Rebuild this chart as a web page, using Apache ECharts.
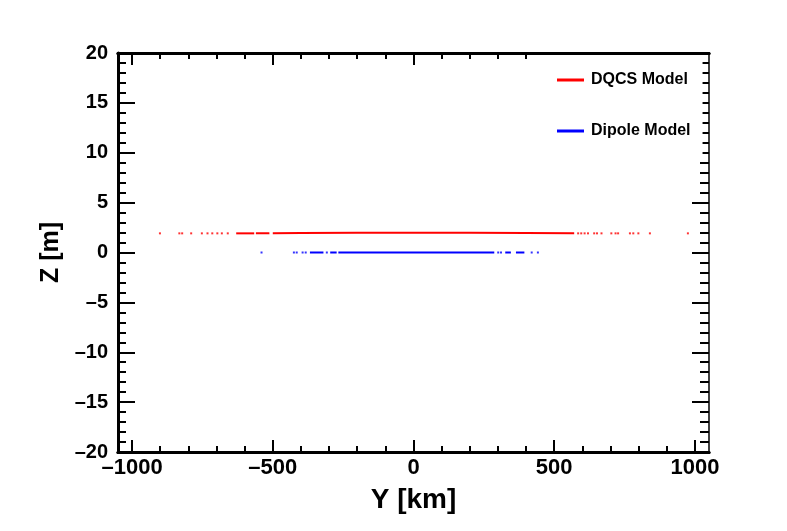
<!DOCTYPE html>
<html>
<head>
<meta charset="utf-8">
<script src="https://cdn.jsdelivr.net/npm/echarts@6/dist/echarts.min.js"></script>
<style>
  html, body { margin: 0; padding: 0; background: #fff; }
  #chart { width: 787px; height: 531px; }
</style>
</head>
<body>
<div id="chart"></div>
<script>
// axis ticks
const xMajorTicks = [-1000, -500, 0, 500, 1000];
const xMinorTicks = [-1000, -900, -800, -700, -600, -500, -400, -300, -200, -100, 0,
                     100, 200, 300, 400, 500, 600, 700, 800, 900, 1000];
// DQCS model: dense track segments and scattered single points (Y km, Z m)
const dqcsTrack1 = [[-630, 1.92], [-566, 1.92]];
const dqcsTrack2 = [[-560, 1.92], [-512, 1.93]];
const dqcsTrack3 = [[-500, 1.93], [-400, 1.95], [-200, 1.98], [0, 1.99], [200, 1.98], [400, 1.95], [571, 1.93]];
const dqcsPoints = [[-901, 1.92], [-832, 1.92], [-822, 1.92], [-790, 1.92], [-752, 1.92], [-732, 1.92],
                    [-715, 1.92], [-697, 1.92], [-681, 1.92], [-660, 1.92],
                    [585, 1.92], [596, 1.92], [608, 1.92], [620, 1.92], [642, 1.92], [652, 1.92],
                    [668, 1.92], [703, 1.92], [718, 1.92], [727, 1.92], [769, 1.92], [781, 1.92],
                    [799, 1.92], [840, 1.92], [975, 1.92]];
// Dipole model
const dipoleTrack1 = [[-368, 0], [-320, 0]];
const dipoleTrack2 = [[-296, 0], [-273, 0]];
const dipoleTrack3 = [[-267, 0], [0, 0], [287, 0]];
const dipoleTrack4 = [[326, 0], [346, 0]];
const dipoleTrack5 = [[364, 0], [394, 0]];
const dipolePoints = [[-540, 0], [-425, 0], [-415, 0], [-394, 0], [-383, 0], [-308, 0],
                      [301, 0], [311, 0], [420, 0], [442, 0]];

const font = '"Liberation Sans", Arial, Helvetica, sans-serif';
const minus = v => String(v).replace('-', '\u2013');

function xAxisDef(pos, ticks, len, withLabels) {
    return {
        type: 'value', position: pos, min: -1050, max: 1050,
        axisLine: { show: true, onZero: false, lineStyle: { color: '#000', width: 3 } },
        axisTick: { show: true, inside: true, length: len, customValues: ticks,
                    lineStyle: { color: '#000', width: 2 } },
        axisLabel: withLabels ? { show: true, customValues: xMajorTicks, formatter: minus,
                    color: '#000', fontFamily: font, fontWeight: 'bold', fontSize: 22, margin: 5 }
                  : { show: false },
        splitLine: { show: false },
        name: withLabels ? 'Y [km]' : '',
        nameLocation: 'middle', nameGap: 34,
        nameTextStyle: { color: '#000', fontFamily: font, fontWeight: 'bold', fontSize: 28 }
    };
}

function yAxisDef(pos, majorLen, minorLen, withLabels) {
    return {
        type: 'value', position: pos, min: -20, max: 20, interval: 5,
        axisLine: { show: true, onZero: false, lineStyle: { color: '#000', width: pos === 'left' ? 3 : 1.5 } },
        axisTick: { show: true, inside: true, length: majorLen, lineStyle: { color: '#000', width: 2 } },
        minorTick: { show: true, splitNumber: 5, length: minorLen, lineStyle: { color: '#000', width: 2 } },
        axisLabel: withLabels ? { show: true, formatter: minus, color: '#000', fontFamily: font,
                    fontWeight: 'bold', fontSize: 20, margin: 10 } : { show: false },
        splitLine: { show: false },
        minorSplitLine: { show: false },
        name: withLabels ? 'Z [m]' : '',
        nameLocation: 'middle', nameGap: 35, nameRotate: 90,
        nameTextStyle: { color: '#000', fontFamily: font, fontWeight: 'bold', fontSize: 25 }
    };
}

function track(name, color, data) {
    return { name: name, type: 'line', data: data, symbol: 'none', silent: true,
             lineStyle: { color: color, width: 2 }, itemStyle: { color: color }, z: 3 };
}
function dots(name, color, data) {
    return { name: name, type: 'scatter', data: data, symbol: 'rect', symbolSize: [2, 2],
             silent: true, itemStyle: { color: color }, z: 3 };
}

const red = '#ff0000', blue = '#0000ff';
const myChart = echarts.init(document.getElementById('chart'), null, { renderer: 'canvas' });
const option = {
    backgroundColor: '#fff',
    animation: false,
    grid: { left: 118, right: 78, top: 53, bottom: 79, containLabel: false },
    xAxis: [
        xAxisDef('bottom', xMajorTicks, 12, true),
        xAxisDef('bottom', xMinorTicks, 6, false),
        xAxisDef('top', xMajorTicks, 12, false),
        xAxisDef('top', xMinorTicks, 6, false)
    ],
    yAxis: [
        yAxisDef('left', 17, 8, true),
        yAxisDef('right', 17, 9, false)
    ],
    legend: {
        orient: 'vertical', left: 552, top: 55,
        backgroundColor: '#fff',
        padding: [17, 12, 21, 5],
        itemGap: 35, itemWidth: 27, itemHeight: 3,
        icon: 'rect',
        data: [{ name: 'DQCS Model', itemStyle: { color: red } },
               { name: 'Dipole Model', itemStyle: { color: blue } }],
        textStyle: { color: '#000', fontFamily: font, fontWeight: 'bold', fontSize: 16, padding: [0, 0, 0, 2] },
        selectedMode: false, z: 10
    },
    series: [
        track('DQCS Model', red, dqcsTrack1),
        track('DQCS Model', red, dqcsTrack2),
        track('DQCS Model', red, dqcsTrack3),
        dots('DQCS Model', red, dqcsPoints),
        track('Dipole Model', blue, dipoleTrack1),
        track('Dipole Model', blue, dipoleTrack2),
        track('Dipole Model', blue, dipoleTrack3),
        track('Dipole Model', blue, dipoleTrack4),
        track('Dipole Model', blue, dipoleTrack5),
        dots('Dipole Model', blue, dipolePoints)
    ]
};
myChart.setOption(option);
</script>
</body>
</html>
